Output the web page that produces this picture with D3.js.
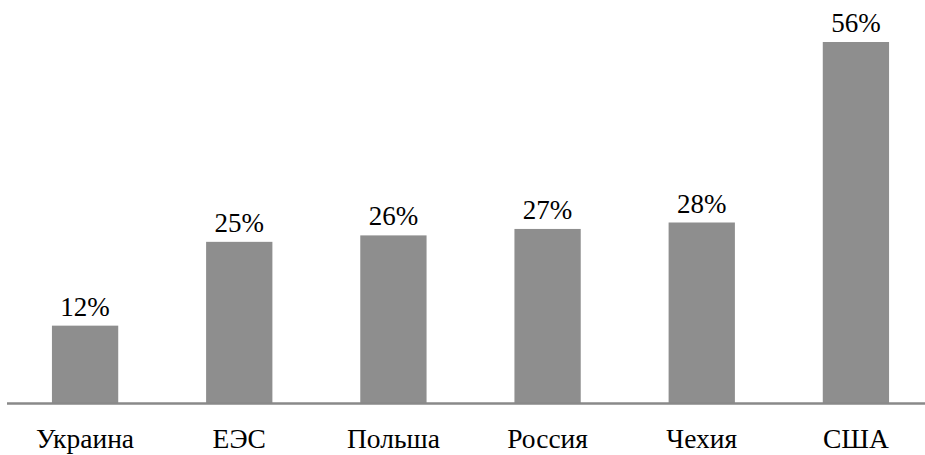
<!DOCTYPE html>
<html>
<head>
<meta charset="utf-8">
<script src="https://cdn.jsdelivr.net/npm/d3@7"></script>
</head>
<body style="margin:0">
<svg id="chart" width="925" height="455"></svg>
<script>
const categories = ["Украина", "ЕЭС", "Польша", "Россия", "Чехия", "США"];
const values = [12, 25, 26, 27, 28, 56];

const width = 925, height = 455;
const svg = d3.select("#chart");

const x = d3.scaleBand().domain(categories).range([8, 933])
    .paddingInner(0.57).paddingOuter(0.285);
const y = d3.scaleLinear().domain([0, 56]).range([403, 42]);

// bars
svg.selectAll(null)
  .data(values)
  .enter().append("rect")
    .attr("x", (d, i) => x(categories[i]))
    .attr("y", d => y(d))
    .attr("width", x.bandwidth())
    .attr("height", d => y(0) - y(d))
    .attr("fill", "#8e8e8e");

// baseline
svg.append("line")
  .attr("x1", 7).attr("x2", width)
  .attr("y1", y(0) + 0.5).attr("y2", y(0) + 0.5)
  .attr("stroke", "#898989").attr("stroke-width", 2.5);

// value labels
svg.selectAll(null)
  .data(values)
  .enter().append("text")
    .attr("x", (d, i) => x(categories[i]) + x.bandwidth() / 2)
    .attr("y", d => y(d) - 10)
    .attr("text-anchor", "middle")
    .attr("font-family", "Liberation Serif")
    .attr("font-size", 27)
    .text(d => d + "%");

// category labels
svg.selectAll(null)
  .data(categories)
  .enter().append("text")
    .attr("x", d => x(d) + x.bandwidth() / 2)
    .attr("y", 448)
    .attr("text-anchor", "middle")
    .attr("font-family", "Liberation Serif")
    .attr("font-size", 27.5)
    .text(d => d);
</script>
</body>
</html>
